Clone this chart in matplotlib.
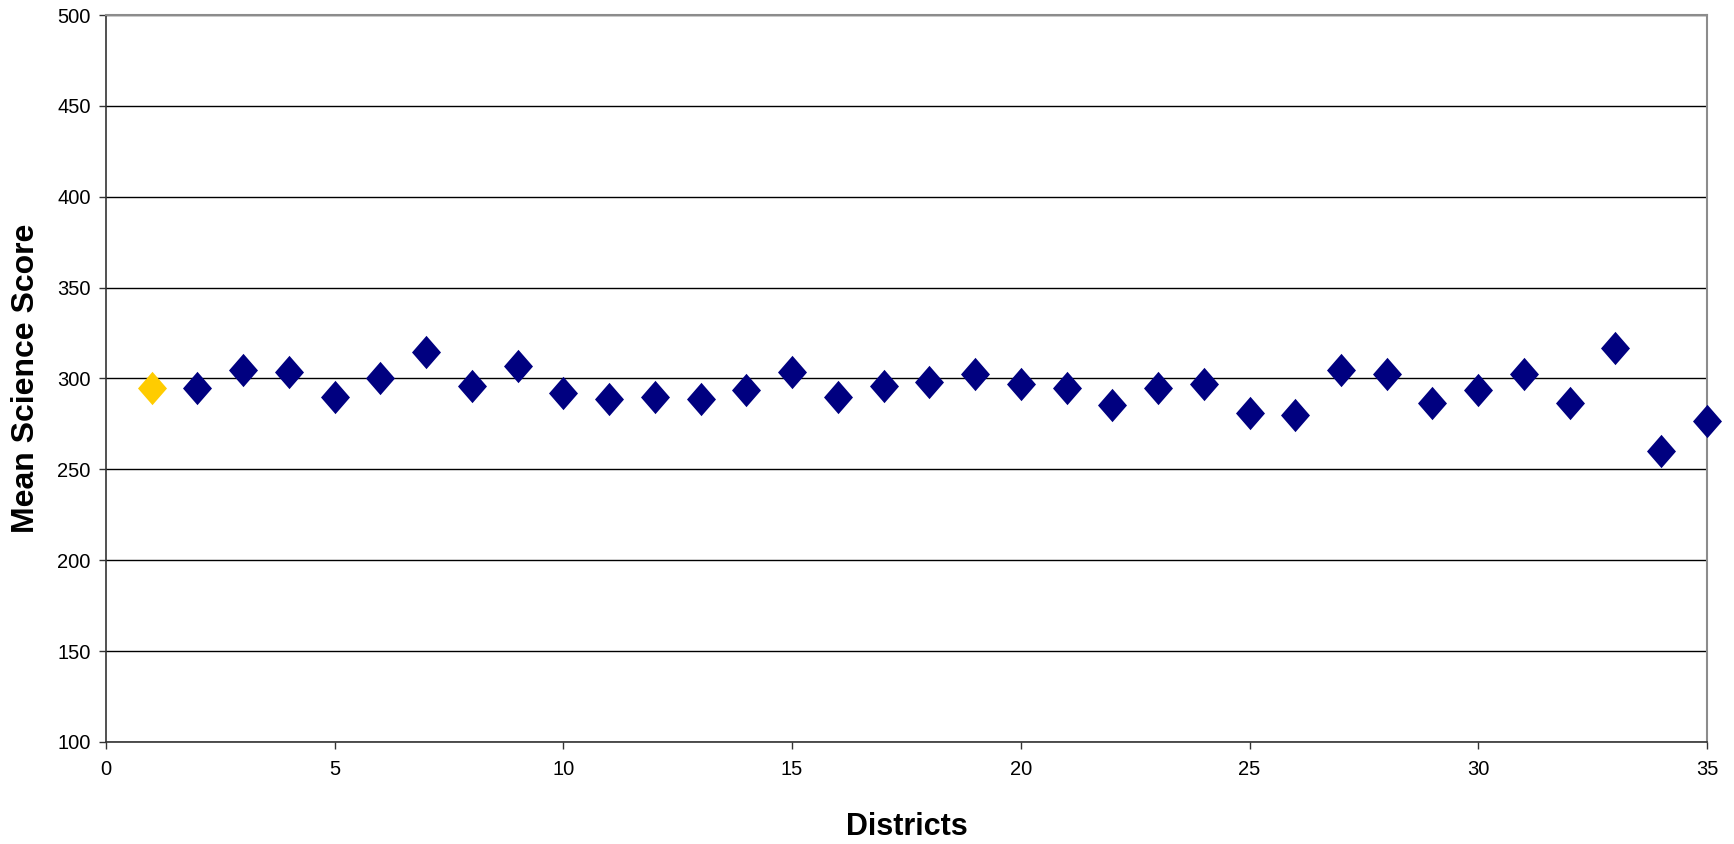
import matplotlib
matplotlib.use("Agg")
import matplotlib.pyplot as plt
from matplotlib.ticker import MultipleLocator

################################################################################
#                                   Data                                       #
################################################################################

districts = list(range(1, 36))
scores = [294.5, 294.5, 304.4, 303.5, 290.0, 300.0, 314.4, 295.8, 306.8, 292.1,
          288.9, 290.0, 288.9, 293.5, 303.5, 290.0, 295.8, 297.8, 302.2, 296.7,
          294.5, 285.6, 294.5, 296.7, 281.2, 280.1, 304.4, 302.2, 286.7, 293.4,
          302.2, 286.7, 316.6, 260.0, 276.8]
highlight = 1   # district drawn in yellow

NAVY = "#000080"
GOLD = "#FFCC00"

plt.rcParams['font.family'] = ['Liberation Sans', 'DejaVu Sans']

# slightly tall diamond, like the Excel marker
diamond = [(0, 1), (0.87, 0), (0, -1), (-0.87, 0), (0, 1)]

fig = plt.figure(figsize=(17.34, 8.44), dpi=100)
ax = fig.add_axes([0.0611, 0.1209, 0.9233, 0.8613])

other_x = [d for d in districts if d != highlight]
other_y = [s for d, s in zip(districts, scores) if d != highlight]
ax.plot(other_x, other_y, linestyle='none', marker=diamond, markersize=24,
        color=NAVY, markeredgewidth=0, zorder=3, clip_on=False)
ax.plot([highlight], [scores[districts.index(highlight)]], linestyle='none',
        marker=diamond, markersize=24, color=GOLD, markeredgewidth=0,
        zorder=3, clip_on=False)

ax.set_xlim(0, 35)
ax.set_ylim(100, 500)
ax.xaxis.set_major_locator(MultipleLocator(5))
ax.yaxis.set_major_locator(MultipleLocator(50))

ax.grid(axis='y', color='black', linewidth=1.0, zorder=0)
ax.set_axisbelow(True)

for side in ['top', 'right']:
    ax.spines[side].set_color('#8c8c8c')
    ax.spines[side].set_linewidth(1.5)
for side in ['left', 'bottom']:
    ax.spines[side].set_color('#333333')
    ax.spines[side].set_linewidth(1.2)

ax.tick_params(direction='out', length=5, width=1, colors='#333333',
               labelcolor='black', labelsize=14.5)
ax.tick_params(axis='x', pad=8)
ax.tick_params(axis='y', pad=6)

ax.set_xlabel("Districts", fontsize=22, fontweight='bold', labelpad=24)
ax.set_ylabel("Mean Science Score", fontsize=23, fontweight='bold', labelpad=12)

fig.savefig("out.png", dpi=100)
print("Done")
